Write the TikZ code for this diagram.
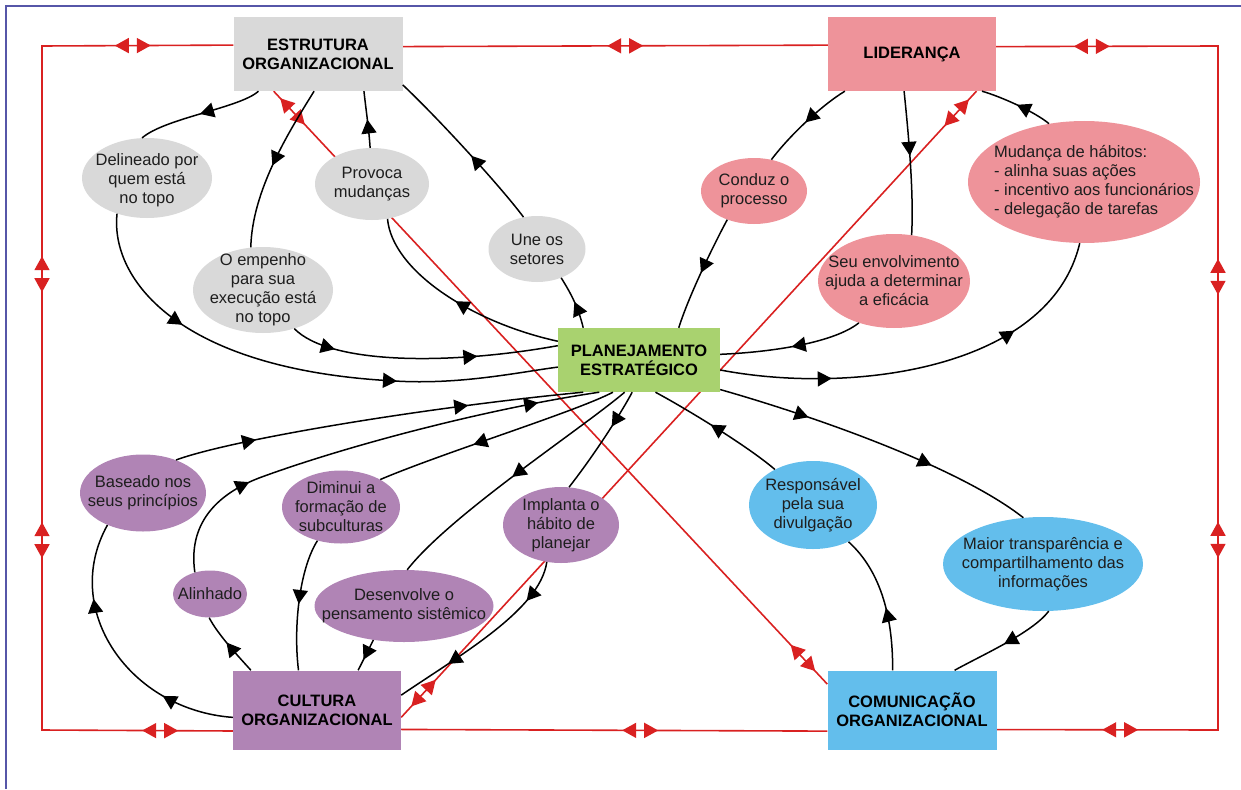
\documentclass[tikz,border=0pt]{standalone}
\usepackage{fontspec}
\setmainfont{Liberation Sans}
\usetikzlibrary{arrows.meta, shapes.geometric, decorations.markings, backgrounds}

\definecolor{boxgray}{HTML}{D9D9D9}
\definecolor{boxpink}{HTML}{EE939A}
\definecolor{boxgreen}{HTML}{A9D26F}
\definecolor{boxpurple}{HTML}{B084B5}
\definecolor{boxblue}{HTML}{63BEEC}
\definecolor{linkred}{HTML}{D92121}
\definecolor{frameblue}{HTML}{5656A8}
\definecolor{txtgray}{HTML}{1E1E1E}

\tikzset{
    topic/.style={rectangle, fill=#1, inner sep=0pt, align=center,
        font=\fontsize{16.5}{19}\selectfont\bfseries},
    bubble/.style={ellipse, fill=#1, inner sep=0pt},
    bubtext/.style={align=center, text=txtgray, inner sep=0pt,
        font=\fontsize{16.5}{19}\selectfont},
    flow/.style={draw=black, line width=1.5pt},
    arr/.style={postaction={decorate, decoration={markings,
        mark=at position #1 with {\arrow{Triangle[length=14pt,width=15pt]}}}}},
    redlink/.style={draw=linkred, line width=1.6pt},
    pairat/.style={postaction={decorate, decoration={markings,
        mark=at position #1pt-18pt with {\arrowreversed{Triangle[length=14pt,width=15pt]}},
        mark=at position #1pt+18pt with {\arrow{Triangle[length=14pt,width=15pt]}}}}}
}

\begin{document}
\begin{tikzpicture}[x=1pt, y=-1pt]

    \useasboundingbox (0,0) rectangle (1241,789);

    % ==========================================
    % 1. MAIN BOXES
    % ==========================================
    \node[topic=boxgray, minimum width=169pt, minimum height=74pt] (estr) at (318,54) {ESTRUTURA\\ORGANIZACIONAL};
    \node[topic=boxpink, minimum width=168pt, minimum height=74pt] (lid) at (912,54) {LIDERANÇA};
    \node[topic=boxgreen, minimum width=162pt, minimum height=64pt] (plan) at (639,360) {PLANEJAMENTO\\ESTRATÉGICO};
    \node[topic=boxpurple, minimum width=168pt, minimum height=79pt] (cult) at (317,710) {CULTURA\\ORGANIZACIONAL};
    \node[topic=boxblue, minimum width=169pt, minimum height=79pt] (com) at (912,710) {COMUNICAÇÃO\\ORGANIZACIONAL};

    % ==========================================
    % 2. BUBBLES
    % ==========================================
    % Estrutura (gray)
    \node[bubble=boxgray, minimum width=130pt, minimum height=80pt,
        label={[bubtext, yshift=-2pt]center:{Delineado por\\quem está\\no topo}}] (delin) at (147,178) {};
    \node[bubble=boxgray, minimum width=114pt, minimum height=72pt,
        label={[bubtext]center:{Provoca\\mudanças}}] (provoca) at (372,184) {};
    \node[bubble=boxgray, minimum width=97pt, minimum height=66pt,
        label={[bubtext]center:{Une os\\setores}}] (une) at (537,249) {};
    \node[bubble=boxgray, minimum width=140pt, minimum height=86pt,
        label={[bubtext]center:{O empenho\\para sua\\execução está\\no topo}}] (empenho) at (263,290) {};

    % Liderança (pink)
    \node[bubble=boxpink, minimum width=106pt, minimum height=66pt,
        label={[bubtext]center:{Conduz o\\processo}}] (conduz) at (754,191) {};
    \node[bubble=boxpink, minimum width=152pt, minimum height=94pt,
        label={[bubtext]center:{Seu envolvimento\\ajuda a determinar\\a eficácia}}] (seu) at (894,281) {};
    \node[bubble=boxpink, minimum width=232pt, minimum height=122pt,
        label={[bubtext, align=left, xshift=10pt]center:{Mudança de hábitos:\\- alinha suas ações\\- incentivo aos funcionários\\- delegação de tarefas}}] (mudanca) at (1084,182) {};

    % Cultura (purple)
    \node[bubble=boxpurple, minimum width=126pt, minimum height=77pt,
        label={[bubtext]center:{Baseado nos\\seus princípios}}] (baseado) at (143,493) {};
    \node[bubble=boxpurple, minimum width=118pt, minimum height=73pt,
        label={[bubtext]center:{Diminui a\\formação de\\subculturas}}] (diminui) at (341,507) {};
    \node[bubble=boxpurple, minimum width=74pt, minimum height=47pt,
        label={[bubtext]center:{Alinhado}}] (alinhado) at (210,594) {};
    \node[bubble=boxpurple, minimum width=179pt, minimum height=72pt,
        label={[bubtext]center:{Desenvolve o\\pensamento sistêmico}}] (desenvolve) at (404,606) {};
    \node[bubble=boxpurple, minimum width=116pt, minimum height=76pt,
        label={[bubtext]center:{Implanta o\\hábito de\\planejar}}] (implanta) at (561,525) {};

    % Comunicação (blue)
    \node[bubble=boxblue, minimum width=128pt, minimum height=88pt,
        label={[bubtext]center:{Responsável\\pela sua\\divulgação}}] (resp) at (813,505) {};
    \node[bubble=boxblue, minimum width=200pt, minimum height=94pt,
        label={[bubtext]center:{Maior transparência e\\compartilhamento das\\informações}}] (maior) at (1043,564) {};

    % ==========================================
    % 3. BLACK CONNECTORS
    % ==========================================
    % Estrutura
    \draw[flow, arr=0.5] (estr.-148) .. controls (240,108) and (165,118) .. (delin.97);
    \draw[flow, arr=0.26, arr=0.69] (delin.-130) .. controls (110,280) and (180,370) .. (395,381)
        .. controls (460,385) and (520,372) .. (plan.-175);
    \draw[flow, arr=0.5] (estr.-96) .. controls (290,130) and (252,190) .. (empenho.106);
    \draw[flow, arr=0.17, arr=0.7] (empenho.-51) .. controls (330,365) and (450,365) .. (plan.170);
    \draw[flow, arr=0.5] (provoca.93) .. controls (369,130) and (366,110) .. (estr.-39);
    \draw[flow, arr=0.5] (plan.167) .. controls (470,322) and (392,270) .. (provoca.-66);
    \draw[flow, arr=0.5] (plan.150) .. controls (578,306) and (570,292) .. (une.-50);
    \draw[flow, arr=0.45] (une.113) .. controls (505,192) and (445,125) .. (estr.-20);

    % Liderança
    \draw[flow, arr=0.5] (lid.-151) .. controls (822,105) and (790,135) .. (conduz.61);
    \draw[flow, arr=0.5] (conduz.-133) .. controls (712,248) and (688,298) .. (plan.39);
    \draw[flow, arr=0.45] (lid.-102) .. controls (908,130) and (914,190) .. (seu.69);
    \draw[flow, arr=0.5] (seu.-130) .. controls (835,342) and (775,352) .. (plan.4);
    \draw[flow, arr=0.27, arr=0.73] (plan.-7) .. controls (850,395) and (1050,370) .. (mudanca.-94);
    \draw[flow, arr=0.5] (mudanca.121) .. controls (1035,112) and (1002,97) .. (lid.-28);

    % Comunicação
    \draw[flow, arr=0.45] (com.116) .. controls (893,620) and (882,572) .. (resp.-46);
    \draw[flow, arr=0.55] (resp.137) .. controls (750,448) and (692,412) .. (plan.-63);
    \draw[flow, arr=0.28, arr=0.68] (plan.-20) .. controls (820,418) and (960,468) .. (maior.113);
    \draw[flow, arr=0.5] (maior.-83) .. controls (1032,633) and (982,655) .. (com.43);

    % Cultura
    \draw[flow, arr=0.27, arr=0.72] (cult.-175) .. controls (130,710) and (60,610) .. (baseado.-138);
    \draw[flow, arr=0.2, arr=0.72] (baseado.45) .. controls (230,440) and (420,408) .. (plan.-150);
    \draw[flow, arr=0.55] (cult.149) .. controls (240,658) and (218,635) .. (alinhado.-92);
    \draw[flow, arr=0.24, arr=0.87] (alinhado.125) .. controls (188,525) and (215,495) .. (259,478)
        .. controls (340,448) and (480,410) .. (plan.-141);
    \draw[flow, arr=0.6] (plan.-129) .. controls (575,412) and (445,452) .. (diminui.35);
    \draw[flow, arr=0.5] (diminui.-125) .. controls (300,568) and (293,625) .. (cult.115);
    \draw[flow, arr=0.5] (plan.-114) .. controls (580,430) and (450,515) .. (desenvolve.85);
    \draw[flow, arr=0.65] (desenvolve.-132) -- (cult.44);
    \draw[flow, arr=0.35] (plan.-102) .. controls (624,408) and (598,450) .. (implanta.78);
    \draw[flow, arr=0.22, arr=0.72] (implanta.-111) .. controls (540,610) and (460,655) .. (cult.10);

    % ==========================================
    % 4. RED LINKS (behind everything)
    % ==========================================
    \begin{scope}[on background layer]
        \coordinate (ftl) at (42,46);
        \coordinate (fbl) at (42,730);
        \coordinate (fbr) at (1218,730);
        \coordinate (ftr) at (1218,46);

        % outer loop
        \draw[redlink, pairat=222.5] (estr.5.4) -- (lid.174.6);
        \draw[redlink, pairat=100.5, pairat=419.5, pairat=685.5, pairat=993.5]
            (estr.174.6) -- (ftl) -- (fbl) -- (cult.-166.6);
        \draw[redlink, pairat=239] (cult.-13.4) -- (com.-166.7);
        \draw[redlink, pairat=123.5, pairat=411.5, pairat=674.5, pairat=1031.5]
            (com.-13.3) -- (fbr) -- (ftr) -- (lid.5.4);

        % diagonals
        \draw[redlink, pairat=27.6, pairat=-35.6] (estr.-140.6) -- (com.163);
        \draw[redlink, pairat=33, pairat=-29] (cult.-5.4) -- (lid.-30);
    \end{scope}

    % page frame (only top and left show)
    \draw[frameblue, line width=2pt] (5.5,789) -- (5.5,6.5) -- (1241,6.5);

\end{tikzpicture}
\end{document}
